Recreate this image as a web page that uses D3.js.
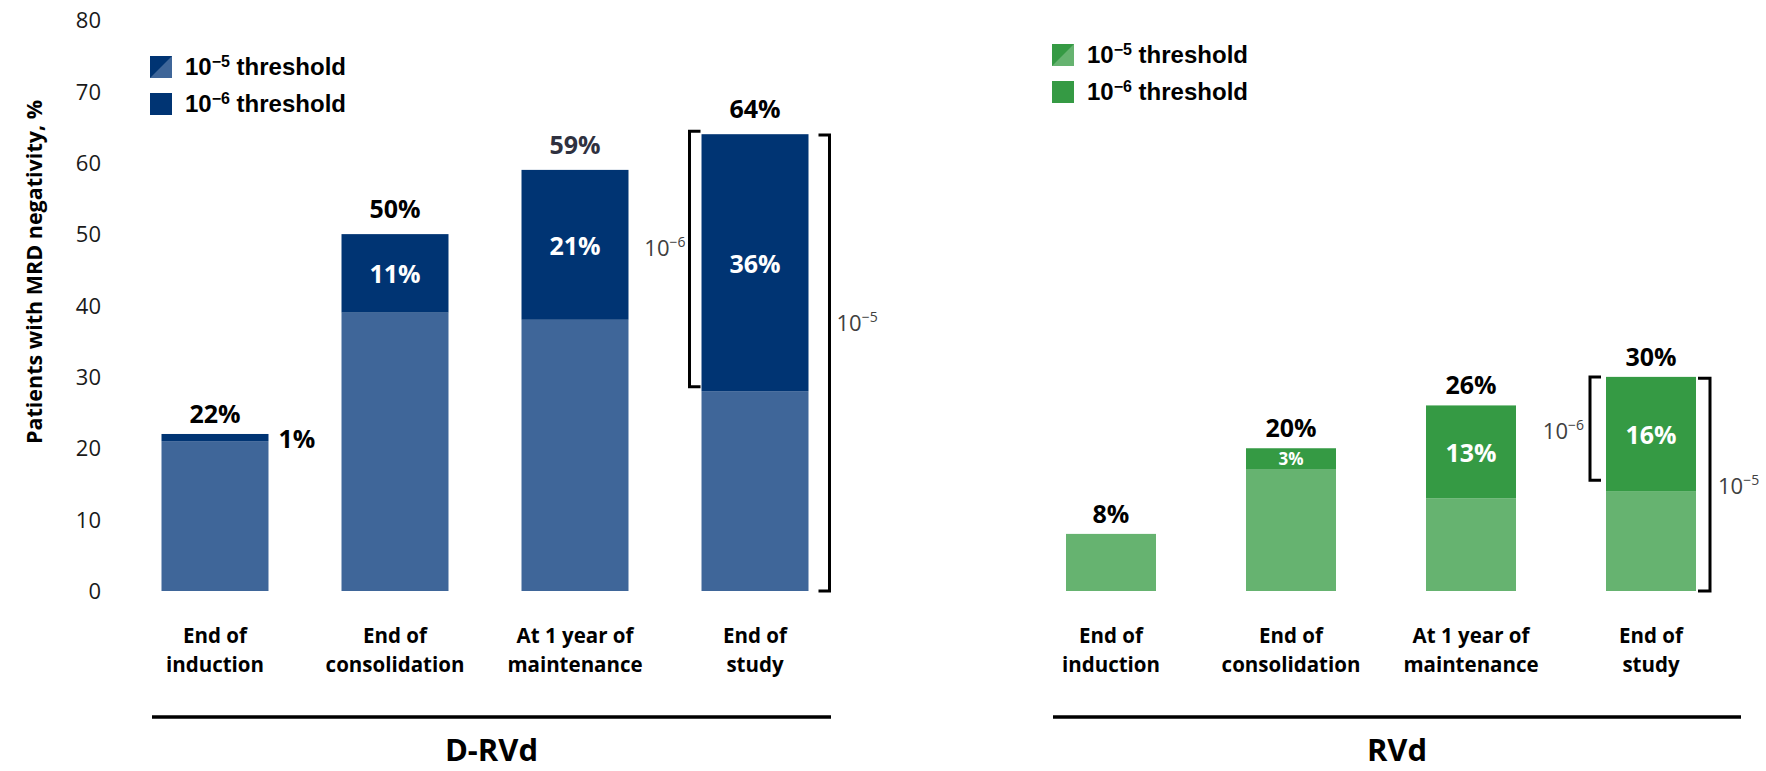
<!DOCTYPE html>
<html>
<head>
<meta charset="utf-8">
<script src="https://cdn.jsdelivr.net/npm/d3@7"></script>
<style>
  html, body { margin: 0; padding: 0; background: #fff; }
  svg { display: block; }
</style>
</head>
<body>
<svg id="chart" width="1766" height="771"></svg>
<script>
// ---------------- DATA ----------------
const categories = [["End of", "induction"], ["End of", "consolidation"], ["At 1 year of", "maintenance"], ["End of", "study"]];
const catKeys = ["induction", "consolidation", "maintenance", "study"];
const groups = ["D-RVd", "RVd"];
// 10^-5 only part (lighter) and additional 10^-6 part (darker)
const drvdLight = [21, 39, 38, 28];
const drvdDark  = [1, 11, 21, 36];
const drvdTotal = ["22%", "50%", "59%", "64%"];
const drvdInner = ["1%", "11%", "21%", "36%"];
const rvdLight  = [8, 17, 13, 14];
const rvdDark   = [0, 3, 13, 16];
const rvdTotal  = ["8%", "20%", "26%", "30%"];
const rvdInner  = ["", "3%", "13%", "16%"];
const yTicks = [0, 10, 20, 30, 40, 50, 60, 70, 80];
const legendLabels = [["10", "\u22125", " threshold"], ["10", "\u22126", " threshold"]];
// bracket spans (value units) at "End of study"
const drvdBracket6 = [28.6, 64.4];
const drvdBracket5 = [0, 63.9];
const rvdBracket6 = [15.5, 30];
const rvdBracket5 = [0, 29.8];

// ---------------- SETUP ----------------
const svg = d3.select("#chart");
const FONT = "'Open Sans', 'DejaVu Sans', sans-serif";
const LFONT = "'Liberation Sans', Arial, sans-serif";

const y = d3.scaleLinear().domain([0, 80]).range([591, 20]);

const xD = d3.scaleBand().domain(catKeys).range([71.5, 898.5]).paddingInner(0.4056).paddingOuter(0.5);
const xR = d3.scaleBand().domain(catKeys).range([976, 1786]).paddingInner(0.5).paddingOuter(0.5);

const colors = {
  "D-RVd": { light: "#3f6699", dark: "#003473" },
  "RVd":   { light: "#66b370", dark: "#359a44" }
};

// ---------------- Y AXIS ----------------
const yAxis = d3.axisLeft(y).tickValues(yTicks).tickSize(0).tickPadding(0);
const gy = svg.append("g").attr("transform", "translate(101,0)").call(yAxis);
gy.select(".domain").remove();
gy.selectAll("text")
  .attr("font-family", FONT).attr("font-size", 22).attr("fill", "#1a1a1a")
  .attr("dy", "0.35em");

svg.append("text")
  .attr("transform", "translate(33,272) rotate(-90)")
  .attr("text-anchor", "middle").attr("dominant-baseline", "central")
  .attr("font-family", FONT).attr("font-weight", 700).attr("font-size", 21.5)
  .attr("fill", "#000")
  .text("Patients with MRD negativity, %");

// ---------------- PANELS ----------------
function drawPanel(x, light, dark, totals, inner, grp, lineX) {
  const c = colors[grp];
  const g = svg.append("g");
  const bw = x.bandwidth();
  // light segments
  g.selectAll(".lt").data(catKeys).join("rect")
    .attr("x", d => x(d)).attr("width", bw)
    .attr("y", (d, i) => y(light[i])).attr("height", (d, i) => y(0) - y(light[i]))
    .attr("fill", c.light);
  // dark segments
  g.selectAll(".dk").data(catKeys).join("rect")
    .attr("x", d => x(d)).attr("width", bw)
    .attr("y", (d, i) => y(light[i] + dark[i])).attr("height", (d, i) => y(light[i]) - y(light[i] + dark[i]))
    .attr("fill", c.dark);
  // total labels
  g.selectAll(".tot").data(catKeys).join("text")
    .attr("x", d => x(d) + bw / 2)
    .attr("y", (d, i) => y(light[i] + dark[i]) - (light[i] + dark[i] > 40 ? 16 : 11))
    .attr("text-anchor", "middle")
    .attr("font-family", FONT).attr("font-weight", 700).attr("font-size", 25)
    .attr("fill", (d, i) => (grp === "D-RVd" && i === 2) ? "#2f3140" : "#000")
    .text((d, i) => totals[i]);
  // inner labels
  g.selectAll(".inn").data(catKeys).join("text")
    .attr("x", (d, i) => dark[i] < 2 ? x(d) + bw + 10 : x(d) + bw / 2)
    .attr("y", (d, i) => dark[i] < 2 ? y(light[i] + dark[i]) + 4 : y(light[i] + dark[i] / 2))
    .attr("text-anchor", (d, i) => dark[i] < 2 ? "start" : "middle")
    .attr("dominant-baseline", "central")
    .attr("font-family", FONT).attr("font-weight", 700)
    .attr("font-size", (d, i) => dark[i] < 2 ? 25 : (dark[i] < 5 ? 17 : 25))
    .attr("fill", (d, i) => dark[i] < 2 ? "#000" : "#fff")
    .text((d, i) => inner[i]);
  // category labels
  const cl = g.selectAll(".cat").data(catKeys).join("text")
    .attr("text-anchor", "middle")
    .attr("font-family", FONT).attr("font-weight", 700).attr("font-size", 20.5)
    .attr("fill", "#000");
  cl.each(function(d, i) {
    const t = d3.select(this);
    categories[i].forEach((line, k) => {
      t.append("tspan").attr("x", x(d) + bw / 2).attr("y", 643 + k * 29).text(line);
    });
  });
  // group underline
  g.append("line").attr("x1", lineX[0]).attr("x2", lineX[1]).attr("y1", 717).attr("y2", 717)
    .attr("stroke", "#000").attr("stroke-width", 3.5);
  g.append("text").attr("x", (lineX[0] + lineX[1]) / 2).attr("y", 761)
    .attr("text-anchor", "middle")
    .attr("font-family", FONT).attr("font-weight", 700).attr("font-size", 31)
    .attr("fill", "#000").text(grp);
}

drawPanel(xD, drvdLight, drvdDark, drvdTotal, drvdInner, "D-RVd", [152, 831]);
drawPanel(xR, rvdLight, rvdDark, rvdTotal, rvdInner, "RVd", [1053, 1741]);

// ---------------- BRACKETS ----------------
function supText(x, yy, base, sup, anchor) {
  const t = svg.append("text").attr("x", x).attr("y", yy)
    .attr("text-anchor", anchor)
    .attr("font-family", FONT).attr("font-size", 22).attr("fill", "#404040");
  t.append("tspan").text(base);
  t.append("tspan").attr("font-size", 14).attr("dy", -9).text(sup);
  return t;
}
function bracket(xv, span, tickDir, tickLen) {
  const y1 = y(span[1]), y0 = y(span[0]);
  svg.append("path")
    .attr("d", `M${xv + tickDir * tickLen},${y1} H${xv} V${y0} H${xv + tickDir * tickLen}`)
    .attr("fill", "none").attr("stroke", "#000").attr("stroke-width", 3);
}
// D-RVd
const dLeft = xD("study"), dRight = xD("study") + xD.bandwidth();
bracket(dLeft - 12, drvdBracket6, 1, 11);
bracket(dRight + 21, drvdBracket5, -1, 11);
supText(dLeft - 16, y((drvdBracket6[0] + drvdBracket6[1]) / 2) - 3, "10", "\u22126", "end");
supText(dRight + 28, y(37.6) + 8, "10", "\u22125", "start");
// RVd
const rLeft = xR("study"), rRight = xR("study") + xR.bandwidth();
bracket(rLeft - 16, rvdBracket6, 1, 11);
bracket(rRight + 14, rvdBracket5, -1, 12);
supText(rLeft - 22, y((rvdBracket6[0] + rvdBracket6[1]) / 2) + 10, "10", "\u22126", "end");
supText(rRight + 22, y(14.7) + 8, "10", "\u22125", "start");

// ---------------- LEGENDS ----------------
function legend(x0, y0, grp) {
  const c = colors[grp];
  const g = svg.append("g").attr("transform", `translate(${x0},${y0})`);
  const s = 22;
  // swatch 1: split diagonally
  g.append("rect").attr("x", 0).attr("y", 0).attr("width", s).attr("height", s).attr("fill", c.light);
  g.append("path").attr("d", `M0,0 H${s} L0,${s} Z`).attr("fill", c.dark);
  // swatch 2
  g.append("rect").attr("x", 0).attr("y", 37).attr("width", s).attr("height", s).attr("fill", c.dark);
  legendLabels.forEach((lab, i) => {
    const t = g.append("text").attr("x", 35).attr("y", 19 + i * 37)
      .attr("font-family", LFONT).attr("font-weight", 700).attr("font-size", 24).attr("fill", "#000");
    t.append("tspan").text(lab[0]);
    t.append("tspan").attr("font-size", 16).attr("dy", -8).text(lab[1]);
    t.append("tspan").attr("dy", 8).text(lab[2]);
  });
}
legend(150, 56, "D-RVd");
legend(1052, 44, "RVd");
</script>
</body>
</html>
